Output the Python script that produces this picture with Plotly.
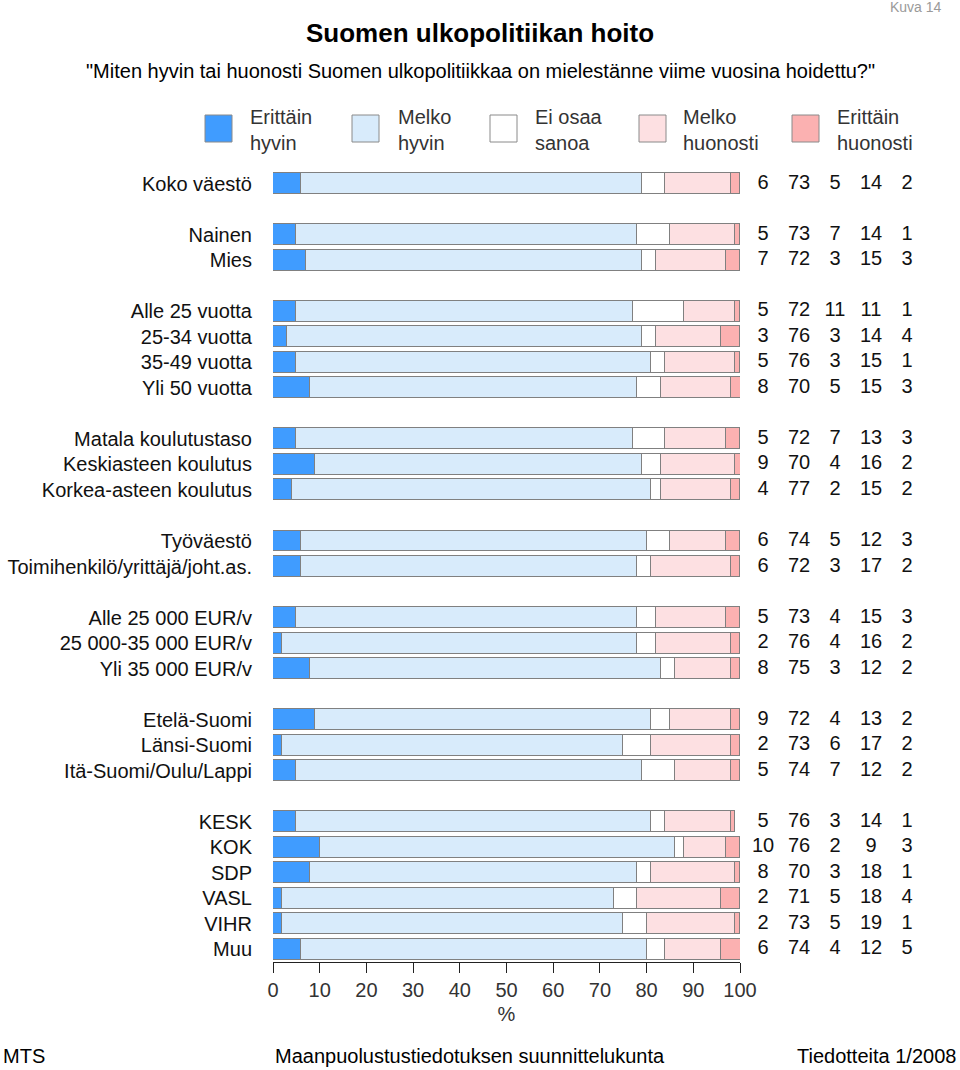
import plotly.graph_objects as go

categories = ["Koko väestö", "Nainen", "Mies", "Alle 25 vuotta", "25-34 vuotta", "35-49 vuotta",
              "Yli 50 vuotta", "Matala koulutustaso", "Keskiasteen koulutus", "Korkea-asteen koulutus",
              "Työväestö", "Toimihenkilö/yrittäjä/joht.as.", "Alle 25 000 EUR/v", "25 000-35 000 EUR/v",
              "Yli 35 000 EUR/v", "Etelä-Suomi", "Länsi-Suomi", "Itä-Suomi/Oulu/Lappi",
              "KESK", "KOK", "SDP", "VASL", "VIHR", "Muu"]
# row slots (blank slot between groups)
slots = [0, 2, 3, 5, 6, 7, 8, 10, 11, 12, 14, 15, 17, 18, 19, 21, 22, 23, 25, 26, 27, 28, 29, 30]

erittain_hyvin = [6, 5, 7, 5, 3, 5, 8, 5, 9, 4, 6, 6, 5, 2, 8, 9, 2, 5, 5, 10, 8, 2, 2, 6]
melko_hyvin = [73, 73, 72, 72, 76, 76, 70, 72, 70, 77, 74, 72, 73, 76, 75, 72, 73, 74, 76, 76, 70, 71, 73, 74]
ei_osaa = [5, 7, 3, 11, 3, 3, 5, 7, 4, 2, 5, 3, 4, 4, 3, 4, 6, 7, 3, 2, 3, 5, 5, 4]
melko_huonosti = [14, 14, 15, 11, 14, 15, 15, 13, 16, 15, 12, 17, 15, 16, 12, 13, 17, 12, 14, 9, 18, 18, 19, 12]
erittain_huonosti = [2, 1, 3, 1, 4, 1, 3, 3, 2, 2, 3, 2, 3, 2, 2, 2, 2, 2, 1, 3, 1, 4, 1, 5]

series_names = ["Erittäin hyvin", "Melko hyvin", "Ei osaa sanoa", "Melko huonosti", "Erittäin huonosti"]
legend_labels = ["Erittäin<br>hyvin", "Melko<br>hyvin", "Ei osaa<br>sanoa", "Melko<br>huonosti", "Erittäin<br>huonosti"]
series_values = [erittain_hyvin, melko_hyvin, ei_osaa, melko_huonosti, erittain_huonosti]
colors = ["#409cff", "#d8ebfb", "#ffffff", "#fde0e2", "#fbb1b1"]

x_ticks = [0, 10, 20, 30, 40, 50, 60, 70, 80, 90, 100]

FONT = "Arial, 'Liberation Sans', sans-serif"
TXT = "#111111"
FS = 20

# layout geometry (pixels)
W, H = 960, 1070
ML, MR, MT, MB = 273, 20, 171, 108
PW, PH = W - ML - MR, H - MT - MB
BAR_RIGHT = 740          # pixel where 100 % lies
NUM_LEFT, NUM_RIGHT = 740, 940
NUM_FIRST, NUM_STEP = 763, 36   # centre of first number column, spacing


def px(xp):
    return (xp - ML) / PW


def py(yp):
    return (H - MB - yp) / PH


fig = go.Figure()
for name, vals, col in zip(series_names, series_values, colors):
    fig.add_trace(go.Bar(
        y=slots, x=vals, orientation="h", name=name, width=0.82,
        marker=dict(color=col, line=dict(color="#808080", width=1)),
        showlegend=False, hoverinfo="x+name"))

# numbers column at right, on a second hidden x axis
for ci, vals in enumerate(series_values):
    fig.add_trace(go.Scatter(
        x=[ci] * len(vals), y=slots, mode="text", text=[str(v) for v in vals],
        xaxis="x2", textposition="middle center", cliponaxis=False, showlegend=False,
        textfont=dict(family=FONT, size=FS, color=TXT), hoverinfo="skip"))

r0 = (NUM_LEFT - NUM_FIRST) / NUM_STEP
r1 = r0 + (NUM_RIGHT - NUM_LEFT) / NUM_STEP

fig.update_layout(
    barmode="stack", width=W, height=H, autosize=False,
    margin=dict(l=ML, r=MR, t=MT, b=MB, pad=0, autoexpand=False),
    plot_bgcolor="white", paper_bgcolor="white",
    font=dict(family=FONT, size=FS, color=TXT),
    bargap=0,
    xaxis=dict(domain=[0, px(BAR_RIGHT)], range=[0, 100], tickvals=x_ticks, ticks="outside",
               ticklen=10, tickwidth=1, tickcolor="#222", showline=True, linecolor="#222",
               linewidth=1, showgrid=False, zeroline=False, tickfont=dict(size=FS, color="#333"),
               automargin=False,
               title=dict(text="%", font=dict(size=FS, color="#333"), standoff=6)),
    xaxis2=dict(domain=[px(NUM_LEFT), px(NUM_RIGHT)], range=[r0, r1], anchor="y", visible=False,
                showgrid=False, zeroline=False, automargin=False),
    yaxis=dict(range=[30.5, -0.5], tickvals=slots, ticktext=categories, ticks="",
               showline=False, showgrid=False, zeroline=False, ticklabelstandoff=20,
               automargin=False, tickfont=dict(size=FS, color=TXT)),
)

annotations = [
    dict(text="<b>Suomen ulkopolitiikan hoito</b>", x=px(480), y=py(33), xref="paper", yref="paper",
         showarrow=False, font=dict(size=26, color="black"), xanchor="center", yanchor="middle"),
    dict(text='"Miten hyvin tai huonosti Suomen ulkopolitiikkaa on mielestänne viime vuosina hoidettu?"',
         x=px(480), y=py(71), xref="paper", yref="paper", showarrow=False,
         font=dict(size=FS, color="black"), xanchor="center", yanchor="middle"),
    dict(text="Kuva 14", x=px(944), y=py(7), xref="paper", yref="paper", showarrow=False,
         font=dict(size=14, color="#9a9a9a"), xanchor="right", yanchor="middle"),
    dict(text="MTS", x=px(1), y=py(1056), xref="paper", yref="paper", showarrow=False,
         font=dict(size=FS, color="black"), xanchor="left", yanchor="middle"),
    dict(text="Maanpuolustustiedotuksen suunnittelukunta", x=px(470), y=py(1056), xref="paper",
         yref="paper", showarrow=False, font=dict(size=FS, color="black"), xanchor="center",
         yanchor="middle"),
    dict(text="Tiedotteita 1/2008", x=px(958), y=py(1056), xref="paper", yref="paper",
         showarrow=False, font=dict(size=FS, color="black"), xanchor="right", yanchor="middle"),
]

shapes = []
box_x = [205, 352, 490, 639, 792]
text_x = [248, 396, 533, 681, 835]
for bx, tx, col, lab in zip(box_x, text_x, colors, legend_labels):
    shapes.append(dict(type="rect", xref="paper", yref="paper", x0=px(bx), x1=px(bx + 27),
                       y0=py(142), y1=py(115), fillcolor=col, line=dict(color="#8a8a8a", width=1)))
    annotations.append(dict(text=lab, x=px(tx), y=py(130), xref="paper", yref="paper",
                            showarrow=False, align="left", xanchor="left", yanchor="middle",
                            font=dict(size=FS, color="#333")))

fig.update_layout(annotations=annotations, shapes=shapes)
fig.write_html("out.html", config={"displayModeBar": False},
               post_script="document.body.style.margin='0';document.body.style.padding='0';")
